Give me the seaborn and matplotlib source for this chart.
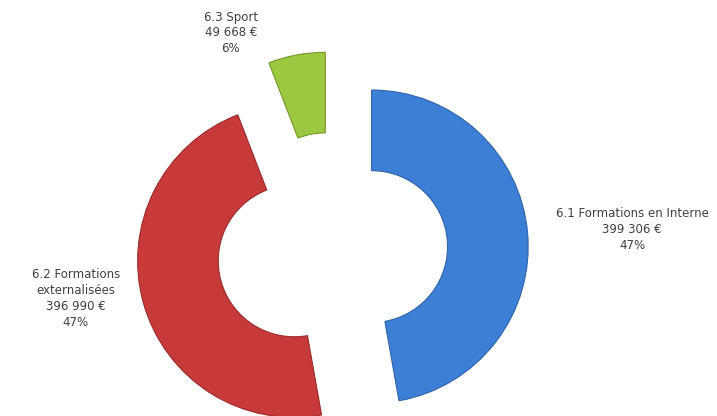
import matplotlib
matplotlib.use("Agg")
import matplotlib.pyplot as plt
import seaborn as sns

# données du graphique
categories = ["6.1 Formations en Interne", "6.2 Formations\nexternalisées", "6.3 Sport"]
montants = [399306, 396990, 49668]
pourcentages = ["47%", "47%", "6%"]
couleurs = ["#3d7fd6", "#c8393a", "#9cc741"]
bords = ["#2f62a8", "#9a2a2a", "#76982f"]

sns.set_theme(style="white")
plt.rcParams['font.family'] = ['DejaVu Sans']

fig = plt.figure(figsize=(7.17, 4.16), dpi=100)
ax = fig.add_axes([0, 0, 1, 1])

wedges, _ = ax.pie(montants, colors=couleurs, startangle=90, counterclock=False,
                   explode=[0.25, 0.26, 0.27], radius=1.01,
                   wedgeprops=dict(width=0.52, linewidth=0.8))
for w, b in zip(wedges, bords):
    w.set_edgecolor(b)

# libellés
def fmt(v):
    return f"{v:,}".replace(",", " ") + " €"

positions = [(1.93, 0.13), (-1.66, -0.31), (-0.66, 1.40)]
for cat, m, p, (x, y) in zip(categories, montants, pourcentages, positions):
    ax.text(x, y, f"{cat}\n{fmt(m)}\n{p}", ha="center", va="center",
            fontsize=8.5, color="#404040", linespacing=1.3)

ax.set_xlim(-333 / 155, (717 - 333) / 155)
ax.set_ylim((250 - 416) / 155, 250 / 155)
ax.set_aspect("equal")
ax.axis("off")

fig.savefig("out.png", dpi=100)
